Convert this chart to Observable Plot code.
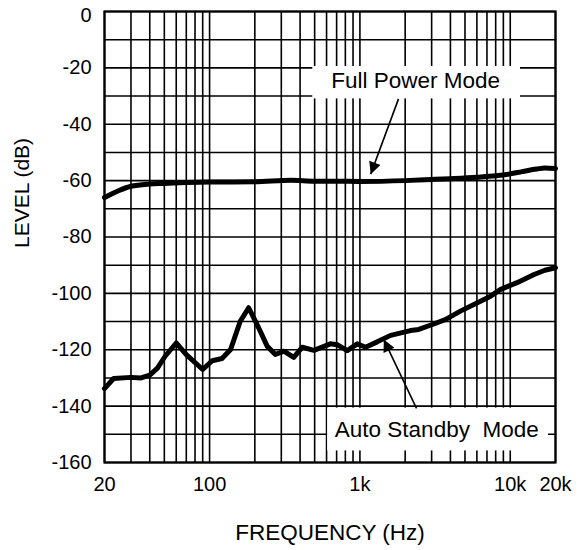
<!DOCTYPE html>
<html><head><meta charset="utf-8">
<script src="https://cdn.jsdelivr.net/npm/d3@7"></script>
<script src="https://cdn.jsdelivr.net/npm/@observablehq/plot@0.6"></script>
<style>body{margin:0;background:#fff}</style>
</head><body><div id="chart"></div>
<script>
// Full Power Mode curve
const fullFreq  = [20, 25, 30, 40, 50, 70, 100, 200, 350, 500, 700, 1000, 2000, 3000, 4000, 6000, 8000, 10000, 12000, 15000, 17000, 20000];
const fullLevel = [-66, -63.5, -62, -61.2, -61, -60.7, -60.5, -60.4, -59.9, -60.2, -60.2, -60.3, -60, -59.6, -59.3, -58.8, -58.3, -57.6, -56.8, -55.9, -55.5, -55.7];
// Auto Standby Mode curve
const autoFreq  = [20, 23, 30, 35, 40, 45, 50.6, 60, 70, 90, 104, 121, 138, 160, 182, 212, 242, 274, 312, 363, 414, 494, 636, 706, 824, 960, 1090, 1304, 1600, 2170, 2460, 2940, 3700, 4660, 6000, 7400, 8630, 11100, 14400, 17000, 20000];
const autoLevel = [-133.8, -130.2, -129.8, -130, -129, -126.5, -122.3, -117.6, -121.7, -127, -123.9, -123.1, -119.9, -109.9, -105.1, -112.2, -118.8, -121.7, -120.5, -122.7, -119.1, -120.2, -117.9, -118.2, -120.3, -117.9, -119.1, -117.2, -114.9, -113.2, -112.8, -111.3, -109.3, -106.3, -103.4, -101, -98.6, -96.2, -93.3, -91.8, -90.9];

// Axes
const xTicks = [20, 100, 1000, 10000, 20000];
const xTickLabels = ["20", "100", "1k", "10k", "20k"];
const yTicks = [0, -20, -40, -60, -80, -100, -120, -140, -160];
const xGrid = [20,30,40,50,60,70,80,90,100,200,300,400,500,600,700,800,900,1000,2000,3000,4000,5000,6000,7000,8000,9000,10000,20000];
const yGrid = [0,-10,-20,-30,-40,-50,-60,-70,-80,-90,-100,-110,-120,-130,-140,-150,-160];
const xTitle = "FREQUENCY (Hz)";
const yTitle = "LEVEL (dB)";

// Annotations
const labelText  = ["Full Power Mode", "Auto Standby\u00a0 Mode"];
const labelFreq  = [2350, 3244];
const labelLevel = [-24.5, -148.3];
const boxFreq1   = [486, 610];
const boxFreq2   = [11700, 17960];
const boxLevel1  = [-19.5, -140.7];
const boxLevel2  = [-31, -155.9];
const arrowFreq1  = [1806, 2380];
const arrowLevel1 = [-31, -140.8];
const arrowFreq2  = [1180, 1442];
const arrowLevel2 = [-57.7, -116.4];

const full = fullFreq.map((f, i) => ({f, v: fullLevel[i]}));
const auto = autoFreq.map((f, i) => ({f, v: autoLevel[i]}));
const labels = labelText.map((t, i) => ({t, f: labelFreq[i], v: labelLevel[i], f1: boxFreq1[i], f2: boxFreq2[i], v1: boxLevel1[i], v2: boxLevel2[i]}));
const arrows = arrowFreq1.map((f, i) => ({f1: f, v1: arrowLevel1[i], f2: arrowFreq2[i], v2: arrowLevel2[i]}));

function headMarker(color, context) {
  const ns = "http://www.w3.org/2000/svg";
  const doc = (context && context.document) || document;
  const m = doc.createElementNS(ns, "marker");
  m.setAttribute("viewBox", "0 0 10 10");
  m.setAttribute("refX", "10");
  m.setAttribute("refY", "5");
  m.setAttribute("markerUnits", "userSpaceOnUse");
  m.setAttribute("markerWidth", "18");
  m.setAttribute("markerHeight", "12");
  m.setAttribute("orient", "auto");
  const p = doc.createElementNS(ns, "path");
  p.setAttribute("d", "M0,0L10,5L0,10z");
  p.setAttribute("fill", "black");
  p.setAttribute("stroke", "none");
  m.appendChild(p);
  return m;
}

const font = "'Liberation Sans', Arial, sans-serif";
const chart = Plot.plot({
  width: 579,
  height: 550,
  marginLeft: 104,
  marginRight: 24,
  marginTop: 11,
  marginBottom: 88,
  style: {fontFamily: font, color: "black", background: "white", overflow: "visible"},
  x: {type: "log", domain: [20, 20000]},
  y: {domain: [-160, 0]},
  marks: [
    Plot.ruleX(xGrid, {stroke: "black", strokeWidth: 1.6}),
    Plot.ruleY(yGrid, {stroke: "black", strokeWidth: 1.6}),
    Plot.frame({stroke: "black", strokeWidth: 2.2}),
    Plot.line(full, {x: "f", y: "v", stroke: "black", strokeWidth: 5, curve: "monotone-x"}),
    Plot.line(auto, {x: "f", y: "v", stroke: "black", strokeWidth: 5, strokeLinejoin: "round"}),
    Plot.rect(labels, {x1: "f1", x2: "f2", y1: "v1", y2: "v2", fill: "white"}),
    Plot.text(labels, {x: "f", y: "v", text: "t", fontSize: 22.5, fill: "black"}),
    Plot.link(arrows, {x1: "f1", y1: "v1", x2: "f2", y2: "v2", stroke: "black", strokeWidth: 1.6, markerEnd: headMarker}),
    Plot.axisX(xTicks, {tickFormat: d => xTickLabels[xTicks.indexOf(d)], tickSize: 0, tickPadding: 14, fontSize: 20, label: null}),
    Plot.axisY(yTicks.filter(d => d !== 0), {tickFormat: d => String(d), tickSize: 0, tickPadding: 13, fontSize: 20, label: null}),
    Plot.axisY([0], {tickFormat: d => String(d), tickSize: 0, tickPadding: 13, fontSize: 20, label: null, dy: 4}),
    Plot.text([xTitle], {frameAnchor: "bottom", dy: 70, fontSize: 22.5, lineAnchor: "middle", fill: "black"}),
    Plot.text([yTitle], {frameAnchor: "left", rotate: -90, dx: -82, dy: 11, fontSize: 21, lineAnchor: "middle", fill: "black"})
  ]
});
document.getElementById("chart").appendChild(chart);
</script>
</body></html>
